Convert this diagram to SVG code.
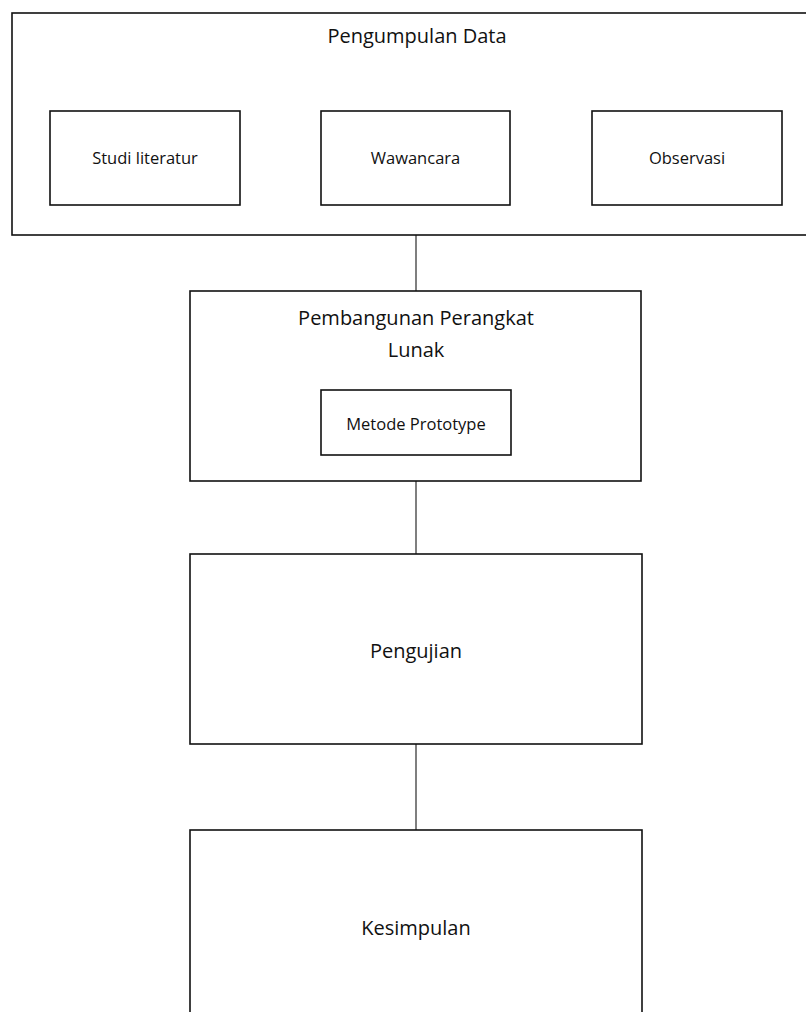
<svg xmlns="http://www.w3.org/2000/svg" width="806" height="1012" viewBox="0 0 806 1012">
<style>
.box{fill:#fff;stroke:#111;stroke-width:1.6}
.conn{stroke:#555;stroke-width:1.5;fill:none}
.big{font-family:"Open Sans","Noto Sans",sans-serif;font-size:20px;fill:#111;text-anchor:middle}
.small{font-family:"Open Sans","Noto Sans",sans-serif;font-size:16.5px;fill:#111;text-anchor:middle}
</style>
<rect width="806" height="1012" fill="#fff"/>
<g id="connectors">
<line class="conn" x1="416" y1="235" x2="416" y2="291"/>
<line class="conn" x1="416" y1="481" x2="416" y2="554"/>
<line class="conn" x1="416" y1="744" x2="416" y2="830"/>
</g>
<g id="pengumpulan-data">
<rect class="box" x="12" y="13" width="810" height="222"/>
<text class="big" x="417" y="43">Pengumpulan Data</text>
</g>
<g id="studi-literatur">
<rect class="box" x="50" y="111" width="190" height="94"/>
<text class="small" x="145" y="164">Studi literatur</text>
</g>
<g id="wawancara">
<rect class="box" x="321" y="111" width="189" height="94"/>
<text class="small" x="415.5" y="164">Wawancara</text>
</g>
<g id="observasi">
<rect class="box" x="592" y="111" width="190" height="94"/>
<text class="small" x="687" y="164">Observasi</text>
</g>
<g id="pembangunan-perangkat-lunak">
<rect class="box" x="190" y="291" width="451" height="190"/>
<text class="big" x="416" y="325">Pembangunan Perangkat</text>
<text class="big" x="416" y="357">Lunak</text>
</g>
<g id="metode-prototype">
<rect class="box" x="321" y="390" width="190" height="65"/>
<text class="small" x="416" y="430">Metode Prototype</text>
</g>
<g id="pengujian">
<rect class="box" x="190" y="554" width="452" height="190"/>
<text class="big" x="416" y="658">Pengujian</text>
</g>
<g id="kesimpulan">
<rect class="box" x="190" y="830" width="452" height="200"/>
<text class="big" x="416" y="935">Kesimpulan</text>
</g>
</svg>
